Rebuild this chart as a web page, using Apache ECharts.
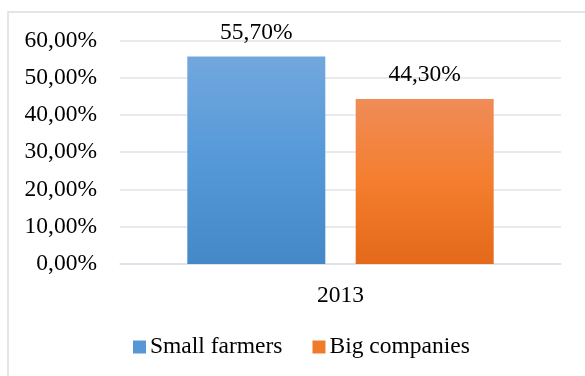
<!DOCTYPE html>
<html>
<head>
<meta charset="utf-8">
<script src="https://cdn.jsdelivr.net/npm/echarts@6/dist/echarts.min.js"></script>
<style>
html,body{margin:0;padding:0;background:#fff;}
#c{width:585px;height:376px;}
</style>
</head>
<body>
<div id="c"></div>
<script>
const categories = ["2013"];
const seriesNames = ["Small farmers", "Big companies"];
const smallFarmers = [55.7];
const bigCompanies = [44.3];
const yTicks = { min: 0, max: 60, interval: 10 };

const FONT = '"Liberation Serif", "Times New Roman", serif';
const FS = 23.5;
const fmt = v => Number(v).toFixed(2).replace('.', ',') + '%';

function grad(top, mid, bot) {
  return new echarts.graphic.LinearGradient(0, 0, 0, 1, [
    { offset: 0, color: top }, { offset: 0.5, color: mid }, { offset: 1, color: bot }
  ]);
}

const chart = echarts.init(document.getElementById('c'), null, { renderer: 'canvas' });
chart.setOption({
  backgroundColor: '#fff',
  animation: false,
  textStyle: { fontFamily: FONT, color: '#000' },
  graphic: [{
    type: 'rect', silent: true, z: -1,
    shape: { x: 8, y: 12, width: 640, height: 420 },
    style: { fill: 'none', stroke: '#D9DDE3', lineWidth: 1.5 }
  }],
  grid: { left: 120, right: 24, top: 40.4, bottom: 112 },
  legend: {
    left: 133, top: 335, padding: 0,
    icon: 'rect', itemWidth: 13, itemHeight: 13, itemGap: 30,
    textStyle: { fontFamily: FONT, fontSize: FS, color: '#000', padding: [0, 0, 0, -1] },
    data: [
      { name: seriesNames[0], itemStyle: { color: '#5797D6' } },
      { name: seriesNames[1], itemStyle: { color: '#F07A2C' } }
    ]
  },
  xAxis: {
    type: 'category', data: categories,
    axisTick: { show: false },
    axisLine: { lineStyle: { color: '#DCE0E6', width: 1.5 } },
    axisLabel: { fontFamily: FONT, fontSize: FS, color: '#000', margin: 20 }
  },
  yAxis: {
    type: 'value', min: yTicks.min, max: yTicks.max, interval: yTicks.interval,
    axisLine: { show: false }, axisTick: { show: false },
    splitLine: { lineStyle: { color: '#E0E3E8', width: 1.5 } },
    axisLabel: { fontFamily: FONT, fontSize: FS, color: '#000', margin: 23, formatter: fmt }
  },
  series: [
    {
      name: seriesNames[0], type: 'bar', data: smallFarmers,
      barWidth: 138, barGap: '22%',
      itemStyle: { color: grad('#72A7DD', '#5599D9', '#4588C8') },
      label: { show: true, position: 'top', distance: 12, fontFamily: FONT, fontSize: FS, color: '#000', formatter: p => fmt(p.value) }
    },
    {
      name: seriesNames[1], type: 'bar', data: bigCompanies,
      barWidth: 138,
      itemStyle: { color: grad('#F08C58', '#F47E2E', '#E4691A') },
      label: { show: true, position: 'top', distance: 12, fontFamily: FONT, fontSize: FS, color: '#000', formatter: p => fmt(p.value) }
    }
  ]
});
</script>
</body>
</html>
